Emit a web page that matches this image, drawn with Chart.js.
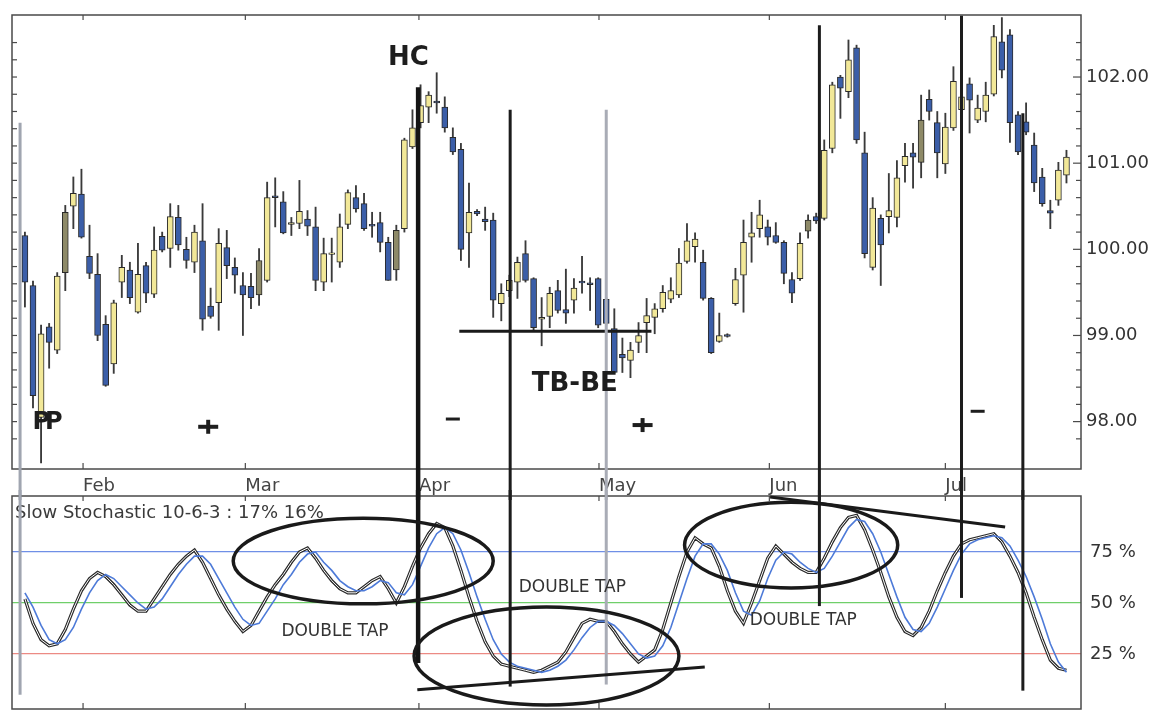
<!DOCTYPE html>
<html>
<head>
<meta charset="utf-8">
<title>Slow Stochastic 10-6-3</title>
<script src="https://cdn.jsdelivr.net/npm/chart.js@4.4.1/dist/chart.umd.min.js"></script>
<style>
  html, body { margin: 0; padding: 0; background: #fff; }
  #wrap { position: relative; width: 1150px; height: 713px; overflow: hidden; }
  #priceChart { position: absolute; left: 0; top: 0; }
  #stochChart { position: absolute; left: 0; top: 490px; }
</style>
</head>
<body>
<div id="wrap">
  <canvas id="priceChart" width="1150" height="500"></canvas>
  <canvas id="stochChart" width="1150" height="223"></canvas>
</div>
<script>
// daily bars (index 0 = first bar of the chart)
const opens = [
  100.16, 99.58, 98.05, 99.10, 98.83, 99.73, 100.50, 100.64, 99.92, 99.71,
  99.13, 98.67, 99.62, 99.76, 99.27, 99.81, 99.48, 100.15, 100.01, 100.37,
  100.00, 99.85, 100.10, 99.34, 99.38, 100.02, 99.79, 99.58, 99.57, 99.47,
  99.64, 100.62, 100.55, 100.29, 100.30, 100.35, 100.26, 99.62, 99.94, 99.85,
  100.29, 100.60, 100.53, 100.29, 100.31, 100.08, 99.76, 100.24, 101.19, 101.47,
  101.65, 101.72, 101.65, 101.30, 101.16, 100.19, 100.44, 100.35, 100.34, 99.37,
  99.52, 99.62, 99.95, 99.66, 99.19, 99.22, 99.52, 99.30, 99.41, 99.63,
  99.61, 99.66, 99.42, 99.08, 98.78, 98.71, 98.92, 99.15, 99.21, 99.31,
  99.42, 99.47, 99.86, 100.03, 99.85, 99.43, 98.93, 99.01, 99.37, 99.70,
  100.14, 100.24, 100.26, 100.16, 100.08, 99.65, 99.66, 100.21, 100.38, 100.36,
  101.17, 102.00, 101.83, 102.34, 101.12, 99.79, 100.36, 100.38, 100.37, 100.97,
  101.12, 101.01, 101.74, 101.47, 100.99, 101.41, 101.62, 101.92, 101.50, 101.60,
  101.80, 102.41, 102.49, 101.56, 101.48, 101.21, 100.84, 100.45, 100.57, 100.86
];
const highs = [
  100.20, 99.63, 99.12, 99.14, 99.73, 100.51, 100.84, 100.93, 100.28, 99.95,
  99.23, 99.41, 99.93, 99.85, 100.07, 99.85, 100.26, 100.20, 100.53, 100.51,
  100.14, 100.28, 100.53, 99.55, 100.24, 100.22, 99.90, 99.73, 99.72, 100.01,
  100.78, 100.83, 100.67, 100.37, 100.80, 100.45, 100.49, 100.13, 100.13, 100.41,
  100.69, 100.74, 100.65, 100.43, 100.43, 100.14, 100.28, 101.29, 101.62, 101.91,
  101.83, 102.05, 101.77, 101.41, 101.23, 100.77, 100.46, 100.49, 100.42, 99.60,
  99.70, 99.91, 100.10, 99.67, 99.44, 99.56, 99.64, 99.77, 99.66, 99.92,
  99.67, 99.67, 99.44, 99.31, 98.97, 98.92, 99.15, 99.43, 99.37, 99.58,
  99.67, 100.01, 100.30, 100.19, 99.99, 99.44, 99.26, 99.02, 99.78, 100.34,
  100.43, 100.57, 100.34, 100.31, 100.10, 99.73, 100.19, 100.40, 100.42, 101.27,
  101.94, 102.02, 102.43, 102.37, 101.36, 100.60, 100.40, 100.88, 101.03, 101.23,
  101.23, 101.79, 101.85, 101.60, 101.58, 102.12, 101.88, 101.99, 101.79, 101.94,
  102.60, 102.69, 102.55, 101.60, 101.70, 101.35, 100.94, 100.57, 101.01, 101.15
];
const lows = [
  99.33, 98.16, 97.52, 98.62, 98.79, 99.52, 100.24, 100.13, 99.66, 98.94,
  98.41, 98.56, 99.44, 99.37, 99.26, 99.38, 99.44, 99.97, 99.79, 99.99,
  99.78, 99.73, 99.06, 99.20, 99.06, 99.66, 99.49, 99.00, 99.31, 99.35,
  99.62, 100.26, 100.18, 100.16, 100.24, 100.16, 99.52, 99.52, 99.62, 99.79,
  100.24, 100.43, 100.22, 100.14, 99.97, 99.64, 99.64, 100.20, 101.17, 101.41,
  101.47, 101.58, 101.36, 101.10, 99.87, 99.79, 100.39, 100.22, 99.21, 99.17,
  99.45, 99.43, 99.62, 99.06, 98.88, 99.09, 99.26, 99.14, 99.26, 99.49,
  99.29, 99.09, 99.12, 98.56, 98.57, 98.51, 98.80, 98.80, 99.02, 99.27,
  99.38, 99.44, 99.84, 99.85, 99.41, 98.79, 98.92, 98.98, 99.35, 99.27,
  99.85, 100.14, 100.05, 100.07, 99.60, 99.38, 99.64, 100.13, 100.30, 100.34,
  101.12, 101.52, 101.76, 101.23, 99.90, 99.76, 99.58, 100.19, 100.26, 100.78,
  100.71, 100.83, 101.50, 100.83, 100.88, 101.38, 101.40, 101.35, 101.47, 101.48,
  101.78, 101.99, 101.24, 101.10, 101.33, 100.67, 100.50, 100.24, 100.51, 100.77
];
const closes = [
  99.62, 98.30, 99.02, 98.92, 99.69, 100.43, 100.65, 100.14, 99.72, 99.00,
  98.42, 99.38, 99.79, 99.44, 99.71, 99.49, 99.99, 99.99, 100.38, 100.05,
  99.87, 100.20, 99.19, 99.22, 100.07, 99.81, 99.70, 99.47, 99.44, 99.87,
  100.60, 100.60, 100.19, 100.31, 100.44, 100.27, 99.64, 99.95, 99.96, 100.26,
  100.66, 100.47, 100.24, 100.27, 100.08, 99.64, 100.22, 101.27, 101.41, 101.67,
  101.79, 101.70, 101.41, 101.13, 100.00, 100.43, 100.41, 100.32, 99.41, 99.49,
  99.64, 99.85, 99.64, 99.09, 99.21, 99.49, 99.29, 99.26, 99.55, 99.61,
  99.59, 99.12, 99.14, 98.57, 98.74, 98.83, 99.00, 99.23, 99.31, 99.50,
  99.52, 99.84, 100.10, 100.12, 99.43, 98.80, 99.00, 98.99, 99.65, 100.08,
  100.19, 100.40, 100.14, 100.08, 99.72, 99.49, 100.07, 100.34, 100.33, 101.15,
  101.91, 101.87, 102.20, 101.27, 99.95, 100.48, 100.05, 100.45, 100.83, 101.08,
  101.07, 101.50, 101.60, 101.12, 101.42, 101.95, 101.77, 101.73, 101.64, 101.79,
  102.47, 102.08, 101.47, 101.13, 101.36, 100.77, 100.53, 100.42, 100.92, 101.07
];
// bars printed in the grey-olive shade
const oliveDays = [5, 29, 46, 97, 111];

// slow stochastic 10-6-3: %K (black) and %D (blue)
const pctK = [
  52, 40, 32, 29, 30, 37, 47, 56, 62, 65,
  63, 59, 54, 49, 46, 46, 52, 58, 64, 69,
  73, 76, 70, 62, 54, 47, 41, 36, 39, 46,
  53, 59, 64, 70, 75, 77, 72, 66, 61, 57,
  55, 55, 58, 61, 63, 57, 50, 58, 68, 77,
  84, 89, 87, 78, 66, 53, 41, 31, 24, 20,
  19, 18, 17, 16, 17, 19, 21, 26, 33, 40,
  42, 41, 41, 36, 30, 25, 21, 24, 27, 37,
  50, 63, 75, 82, 79, 77, 68, 56, 46, 40,
  50, 61, 72, 78, 74, 70, 67, 65, 65, 72,
  80, 87, 92, 93, 86, 76, 65, 53, 43, 36,
  34, 38, 46, 56, 65, 73, 79, 81, 82, 83,
  84, 80, 73, 65, 55, 43, 32, 22, 18, 17
];
const pctD = [
  55, 48, 39, 32, 30, 32, 38, 47, 55, 61,
  64, 62, 58, 54, 50, 47, 48, 52, 58, 64,
  69, 73, 73, 69, 62, 55, 48, 42, 39, 40,
  46, 52, 59, 64, 70, 74, 75, 70, 66, 61,
  58, 56, 56, 58, 61, 60, 55, 54, 59, 68,
  77, 84, 87, 84, 76, 65, 53, 42, 32, 25,
  21, 19, 18, 17, 16, 17, 19, 22, 27, 33,
  38, 41, 41, 39, 35, 30, 25, 23, 24, 29,
  38, 50, 62, 73, 79, 79, 74, 66, 55, 46,
  44, 51, 62, 71, 75, 74, 70, 67, 65, 67,
  73, 80, 87, 91, 90, 84, 75, 64, 53, 43,
  37, 36, 40, 48, 57, 66, 74, 79, 81, 82,
  83, 82, 78, 71, 63, 53, 42, 30, 21, 16
];
const stochLevels = [25, 50, 75];

// month starts (bar index) and their labels
const monthTicks = [7.2, 27.3, 48.8, 71.1, 92.2, 114.0];
const monthLabels = ['Feb', 'Mar', 'Apr', 'May', 'Jun', 'Jul'];

// hand-drawn marks, in data units
const markerDays = [-0.6, 48.7, 60.1, 72.0, 98.4, 116.0, 123.6];
const markerTopPrice = [101.47, 101.88, 101.62, 101.62, 102.60, 102.71, 101.58];
const markerBottomPct = [5, 20.6, 9, 10, 48.5, 52.5, 7];
const supportPrice = 99.05;
const supportDays = [53.8, 77.6];
const priceNotes = ['HC', 'PP', 'TB-BE'];
const priceNoteDays = [47.5, 2.5, 68.1];
const priceNotePrices = [102.22, 97.99, 98.43];
const plusDays = [22.7, 76.5];
const plusPrices = [97.94, 97.96];
const minusDays = [53.0, 118.0];
const minusPrices = [98.03, 98.12];
const ovalDays = [41.9, 64.6, 94.9];
const ovalPcts = [70.6, 24, 78.4];
const ovalDaySpans = [16.1, 16.4, 13.2];
const ovalPctSpans = [21, 24, 21];
const trendStarts = [[48.6, 7.4], [92.3, 102]];
const trendEnds = [[84.2, 18.6], [121.4, 87.3]];
const tapDays = [38.4, 67.8, 96.4];
const tapPcts = [35.8, 57.4, 41.2];

const X_MIN = -1.6, X_MAX = 130.8;
const YELLOW = '#f2e898', BLUE = '#3b5ea8', OLIVE = '#8e8a68';
const FONT = '"DejaVu Sans", "Liberation Sans", sans-serif';

Chart.defaults.font.family = FONT;
Chart.defaults.color = '#333';

const markerInk = ['#a0a5b0', '#141414', '#1c1c1c', '#a9acb6', '#1c1c1c', '#1c1c1c', '#1c1c1c'];
const markerWidth = [3, 4.5, 3, 3, 3, 3, 3];

function seg(ctx, x1, y1, x2, y2) {
  ctx.beginPath();
  ctx.moveTo(x1, y1);
  ctx.lineTo(x2, y2);
  ctx.stroke();
}

function frame(ctx, a) {
  ctx.strokeStyle = '#4a4a4a';
  ctx.lineWidth = 1.5;
  ctx.strokeRect(a.left, a.top, a.right - a.left, a.bottom - a.top);
}

// keep the plot box where the layout padding puts it
function fixedWidth(s) {
  s.width = 69;
  s.paddingTop = 0;
  s.paddingBottom = 0;
}

const priceMarks = {
  id: 'priceMarks',
  afterDatasetsDraw(chart) {
    const { ctx, chartArea: a, scales: { x, y } } = chart;
    ctx.save();
    frame(ctx, a);

    // small ticks pointing into the plot
    ctx.lineWidth = 1.2;
    y.ticks.forEach(t => {
      if (t.value <= y.min || t.value >= y.max) return;
      const py = y.getPixelForValue(t.value);
      const major = Math.abs(t.value - Math.round(t.value)) < 1e-6;
      seg(ctx, a.left, py, a.left + 5, py);
      seg(ctx, a.right - (major ? 8 : 5), py, a.right, py);
    });
    monthTicks.forEach(v => {
      const px = x.getPixelForValue(v);
      seg(ctx, px, a.top, px, a.top + 5);
      seg(ctx, px, a.bottom - 6, px, a.bottom);
    });

    // support line under the lows
    ctx.strokeStyle = '#1a1a1a';
    ctx.lineWidth = 3;
    const sy = y.getPixelForValue(supportPrice);
    seg(ctx, x.getPixelForValue(supportDays[0]), sy, x.getPixelForValue(supportDays[1]), sy);

    // vertical markers, continued in the lower panel
    markerDays.forEach((d, i) => {
      const px = x.getPixelForValue(d);
      ctx.strokeStyle = markerInk[i];
      ctx.lineWidth = markerWidth[i];
      seg(ctx, px, y.getPixelForValue(markerTopPrice[i]), px, chart.height);
    });

    // labels
    ctx.fillStyle = '#1e1e1e';
    ctx.textAlign = 'center';
    ctx.textBaseline = 'middle';
    priceNotes.forEach((txt, i) => {
      ctx.font = 'bold ' + (txt === 'PP' ? 24 : 26) + 'px ' + FONT;
      ctx.letterSpacing = txt === 'PP' ? '-5px' : '0px';
      ctx.fillText(txt, x.getPixelForValue(priceNoteDays[i]), y.getPixelForValue(priceNotePrices[i]));
    });
    ctx.letterSpacing = '0px';

    ctx.strokeStyle = '#1e1e1e';
    ctx.lineWidth = 4;
    plusDays.forEach((d, i) => {
      const px = x.getPixelForValue(d), py = y.getPixelForValue(plusPrices[i]);
      seg(ctx, px - 10, py, px + 10, py);
      seg(ctx, px, py - 7, px, py + 7);
    });
    ctx.lineWidth = 3;
    minusDays.forEach((d, i) => {
      const px = x.getPixelForValue(d), py = y.getPixelForValue(minusPrices[i]);
      seg(ctx, px - 7, py, px + 7, py);
    });
    ctx.restore();
  }
};

const stochMarks = {
  id: 'stochMarks',
  afterDatasetsDraw(chart) {
    const { ctx, chartArea: a, scales: { x, y } } = chart;
    ctx.save();
    frame(ctx, a);
    ctx.lineWidth = 1.2;
    monthTicks.forEach(v => {
      const px = x.getPixelForValue(v);
      seg(ctx, px, a.top, px, a.top + 5);
      seg(ctx, px, a.bottom - 6, px, a.bottom);
    });

    ctx.fillStyle = '#3a3a3a';
    ctx.font = '18px ' + FONT;
    ctx.textAlign = 'left';
    ctx.textBaseline = 'alphabetic';
    ctx.fillText('Slow Stochastic 10-6-3 : 17% 16%', 15, 28);

    markerDays.forEach((d, i) => {
      const px = x.getPixelForValue(d);
      ctx.strokeStyle = markerInk[i];
      ctx.lineWidth = markerWidth[i];
      seg(ctx, px, 0, px, y.getPixelForValue(markerBottomPct[i]));
    });

    ctx.strokeStyle = '#1a1a1a';
    ctx.lineWidth = 3.5;
    ovalDays.forEach((d, i) => {
      const cx = x.getPixelForValue(d), cy = y.getPixelForValue(ovalPcts[i]);
      const rx = Math.abs(x.getPixelForValue(d + ovalDaySpans[i]) - cx);
      const ry = Math.abs(y.getPixelForValue(ovalPcts[i] + ovalPctSpans[i]) - cy);
      ctx.beginPath();
      ctx.ellipse(cx, cy, rx, ry, 0, 0, Math.PI * 2);
      ctx.stroke();
    });
    ctx.lineWidth = 3;
    trendStarts.forEach((p, i) => {
      const q = trendEnds[i];
      seg(ctx, x.getPixelForValue(p[0]), y.getPixelForValue(p[1]), x.getPixelForValue(q[0]), y.getPixelForValue(q[1]));
    });

    ctx.fillStyle = '#333';
    ctx.font = '17px ' + FONT;
    ctx.textAlign = 'center';
    ctx.textBaseline = 'middle';
    tapDays.forEach((d, i) => {
      ctx.fillText('DOUBLE TAP', x.getPixelForValue(d), y.getPixelForValue(tapPcts[i]));
    });
    ctx.restore();
  }
};

const days = opens.map((_, i) => i);

new Chart(document.getElementById('priceChart'), {
  type: 'bar',
  data: {
    datasets: [
      {
        label: 'Body',
        data: days.map(i => ({ x: i, y: [opens[i], closes[i]] })),
        backgroundColor: days.map(i => oliveDays.includes(i) ? OLIVE : (closes[i] >= opens[i] ? YELLOW : BLUE)),
        borderColor: '#2a2a2a',
        borderWidth: 1,
        borderSkipped: false,
        barThickness: 6,
        grouped: false,
        order: 1
      },
      {
        label: 'Range',
        data: days.map(i => ({ x: i, y: [lows[i], highs[i]] })),
        backgroundColor: '#3a3a3a',
        borderWidth: 0,
        barThickness: 1.2,
        grouped: false,
        order: 2
      }
    ]
  },
  options: {
    responsive: false,
    animation: false,
    devicePixelRatio: 1,
    layout: { padding: { left: 12, top: 15, right: 0, bottom: 0 } },
    plugins: { legend: { display: false }, tooltip: { enabled: false } },
    scales: {
      x: {
        type: 'linear',
        min: X_MIN,
        max: X_MAX,
        offset: false,
        grid: { display: false, drawTicks: false },
        border: { display: false },
        afterBuildTicks: s => { s.ticks = monthTicks.map(v => ({ value: v })); },
        ticks: {
          autoSkip: false,
          maxRotation: 0,
          align: 'start',
          padding: 7,
          color: '#444',
          font: { size: 18 },
          callback: (v, i) => monthLabels[i]
        },
        afterFit: s => { s.height = 31; }
      },
      y: {
        position: 'right',
        min: 97.45,
        max: 102.72,
        grid: { display: false, drawTicks: false },
        border: { display: false },
        ticks: {
          stepSize: 0.2,
          autoSkip: false,
          padding: 5,
          color: '#333',
          font: { size: 18 },
          callback: v => Math.abs(v - Math.round(v)) < 1e-6 ? v.toFixed(2) : ''
        },
        afterFit: fixedWidth
      }
    }
  },
  plugins: [priceMarks]
});

const levelColors = { 25: '#ec8a84', 50: '#6fcf6a', 75: '#6f8fe6' };

new Chart(document.getElementById('stochChart'), {
  type: 'line',
  data: {
    datasets: [
      {
        label: '%D',
        data: days.map(i => ({ x: i, y: pctD[i] })),
        borderColor: '#4d7ad8',
        borderWidth: 1.6,
        pointRadius: 0,
        order: 1
      },
      {
        label: '%K core',
        data: days.map(i => ({ x: i, y: pctK[i] })),
        borderColor: '#ffffff',
        borderWidth: 1,
        pointRadius: 0,
        order: 2
      },
      {
        label: '%K',
        data: days.map(i => ({ x: i, y: pctK[i] })),
        borderColor: '#2a2a2a',
        borderWidth: 3.2,
        pointRadius: 0,
        order: 3
      }
    ]
  },
  options: {
    responsive: false,
    animation: false,
    devicePixelRatio: 1,
    layout: { padding: { left: 12, top: 6, right: 0, bottom: 4 } },
    plugins: { legend: { display: false }, tooltip: { enabled: false } },
    scales: {
      x: { type: 'linear', min: X_MIN, max: X_MAX, display: false },
      y: {
        position: 'right',
        min: -2,
        max: 102.5,
        afterBuildTicks: s => { s.ticks = stochLevels.map(v => ({ value: v })); },
        grid: {
          drawTicks: false,
          lineWidth: 1.2,
          color: c => (c.tick ? levelColors[c.tick.value] : 'transparent')
        },
        border: { display: false },
        ticks: {
          autoSkip: false,
          padding: 9,
          color: '#333',
          font: { size: 18 },
          callback: v => v + ' %'
        },
        afterFit: fixedWidth
      }
    }
  },
  plugins: [stochMarks]
});
</script>
</body>
</html>
